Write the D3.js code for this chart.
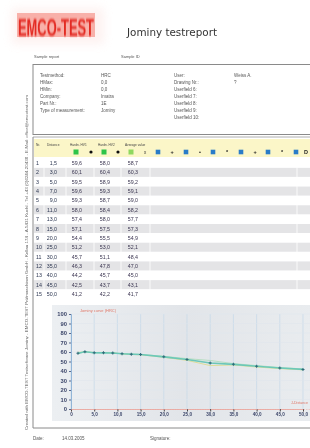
<!DOCTYPE html>
<html><head><meta charset="utf-8">
<script src="https://cdn.jsdelivr.net/npm/d3@7"></script>
<style>html,body{margin:0;padding:0;background:#fff;}svg{display:block;font-family:"Liberation Sans",Arial,sans-serif;}</style>
</head><body><div id="chart"></div>
<script>
// ---------- data ----------
const rowNr = [1,2,3,4,5,6,7,8,9,10,11,12,13,14,15];
const distance = [1.5,3.0,5.0,7.0,9.0,11.0,13.0,15.0,20.0,25.0,30.0,35.0,40.0,45.0,50.0];
const hardness1 = [59.6,60.1,59.5,59.6,59.3,58.0,57.4,57.1,54.4,51.2,45.7,46.3,44.2,42.5,41.2];
const hardness2 = [58.0,60.4,58.9,59.3,58.7,58.4,58.0,57.5,55.5,53.0,51.1,47.8,45.7,43.7,42.2];
const average   = [58.7,60.3,59.2,59.1,59.0,58.2,57.7,57.3,54.9,52.1,48.4,47.0,45.0,43.1,41.7];
const xTicks = [0,5,10,15,20,25,30,35,40,45,50];
const yTicks = [0,10,20,30,40,50,60,70,80,90,100];
const headerLeftLabels = ["Testmethod:","HMax:","HMin:","Company:","Part Nr.:","Type of measurement:"];
const headerLeftValues = ["HRC","0,0","0,0","Imatra","1E","Jominy"];
const headerRightLabels = ["User:","Drawing Nr.:","Userfield 6:","Userfield 7:","Userfield 8:","Userfield 9:","Userfield 10:"];
const headerRightValues = ["Weiss A.","?","","","","",""];
const columnHeaders = ["Nr.","Distance","Hardn. HV1","Hardn. HV2","Average value"];

const fmt = v => d3.format(".1f")(v).replace(".", ",");

const W = 310, H = 448;
const svg = d3.select("#chart").append("svg").attr("width", W).attr("height", H);
const defs = svg.append("defs");
defs.append("filter").attr("id","blurLogo").attr("x","-20%").attr("y","-40%").attr("width","140%").attr("height","180%")
  .append("feGaussianBlur").attr("stdDeviation",0.7);
defs.append("filter").attr("id","blurHaze").attr("x","-50%").attr("y","-50%").attr("width","200%").attr("height","200%")
  .append("feGaussianBlur").attr("stdDeviation",5);
defs.append("filter").attr("id","soft").append("feGaussianBlur").attr("stdDeviation",0.25);

const page = svg.append("g").attr("filter","url(#soft)");

// ---------- logo & title ----------
page.append("rect").attr("x",12).attr("y",8).attr("width",92).attr("height",36).attr("fill","#fbd9d6").attr("opacity",0.35).attr("filter","url(#blurHaze)");
page.append("rect").attr("x",17).attr("y",13).attr("width",78).attr("height",24).attr("fill","#f37a6e").attr("opacity",0.55).attr("filter","url(#blurLogo)");
page.append("text").attr("transform","translate(18,35.5) scale(1,1.75)").attr("font-size",13.5).attr("font-weight","bold")
  .attr("fill","#e32a22").attr("textLength",76).attr("lengthAdjust","spacingAndGlyphs")
  .attr("filter","url(#blurLogo)").text("EMCO-TEST");
page.append("text").attr("x",127).attr("y",36).attr("font-size",11).attr("fill","#333")
  .attr("font-family","DejaVu Sans, sans-serif").attr("textLength",90).attr("lengthAdjust","spacingAndGlyphs").text("Jominy testreport");
page.append("text").attr("x",34).attr("y",58).attr("font-size",4).attr("fill","#555").text("Sample report");
page.append("text").attr("x",121).attr("y",58).attr("font-size",4).attr("fill","#555").text("Sample ID");

// ---------- header box ----------
page.append("rect").attr("x",33).attr("y",64.5).attr("width",300).attr("height",70).attr("fill","none").attr("stroke","#8a8a8a").attr("stroke-width",1);
page.append("line").attr("x1",33).attr("x2",320).attr("y1",137).attr("y2",137).attr("stroke","#9a9a9a").attr("stroke-width",0.8);
const hRow = i => 77 + i*7;
page.selectAll(".hl").data(headerLeftLabels).join("text").attr("x",40).attr("y",(d,i)=>hRow(i)).attr("font-size",4.5).attr("fill","#555").text(d=>d);
page.selectAll(".hv").data(headerLeftValues).join("text").attr("x",101).attr("y",(d,i)=>hRow(i)).attr("font-size",4.5).attr("fill","#555").text(d=>d);
page.selectAll(".hrl").data(headerRightLabels).join("text").attr("x",174).attr("y",(d,i)=>hRow(i)).attr("font-size",4.5).attr("fill","#555").text(d=>d);
page.selectAll(".hrv").data(headerRightValues).join("text").attr("x",234).attr("y",(d,i)=>hRow(i)).attr("font-size",4.5).attr("fill","#555").text(d=>d);

// ---------- outer section box (table + chart) ----------
page.append("line").attr("x1",33).attr("x2",33).attr("y1",137).attr("y2",428).attr("stroke","#8a8a8a").attr("stroke-width",1);
page.append("line").attr("x1",33).attr("x2",320).attr("y1",428).attr("y2",428).attr("stroke","#8a8a8a").attr("stroke-width",1);

// ---------- table ----------
const rowY = d3.scaleLinear().domain([1,15]).range([165,296]);
page.append("rect").attr("x",34).attr("y",139).attr("width",280).attr("height",18).attr("fill","#fbf6c8");
const colX = [36,47,70,98,125];
page.selectAll(".ch").data(columnHeaders).join("text").attr("x",(d,i)=>colX[i]).attr("y",146).attr("font-size",3.2).attr("fill","#444").text(d=>d);
const greenSq = [{x:76,c:"#2fc44a"},{x:104,c:"#2fc44a"},{x:131,c:"#8fd860"}];
page.selectAll(".gs").data(greenSq).join("rect").attr("x",d=>d.x-2.5).attr("y",149.5).attr("width",5).attr("height",5).attr("fill",d=>d.c);
page.selectAll(".bd").data([91,118]).join("circle").attr("cx",d=>d).attr("cy",152).attr("r",1.6).attr("fill","#111");
page.append("text").attr("x",145).attr("y",153.8).attr("font-size",4.5).attr("text-anchor","middle").attr("fill","#333").text("x");
const blueX = [158,186,213,241,268,296];
page.selectAll(".bs").data(blueX).join("rect").attr("x",d=>d-2.3).attr("y",149.7).attr("width",4.6).attr("height",4.6).attr("fill","#2b7cc8");
const blackSym = [{x:172,s:"+"},{x:200,s:"•"},{x:227,s:"*"},{x:255,s:"+"},{x:282,s:"*"},{x:306,s:"D"}];
page.selectAll(".bk").data(blackSym).join("text").attr("x",d=>d.x).attr("y",154).attr("font-size",5.5).attr("font-weight","bold")
  .attr("text-anchor","middle").attr("fill","#222").text(d=>d.s);

page.selectAll(".stripe").data(rowNr.filter(n=>n%2===0)).join("rect")
  .attr("x",34).attr("y",d=>rowY(d)-6.5).attr("width",280).attr("height",9).attr("fill","#e4e4e6");
page.selectAll(".csep").data([44,66,94,121,150,297]).join("line").attr("x1",d=>d).attr("x2",d=>d)
  .attr("y1",158).attr("y2",300).attr("stroke","#fff").attr("stroke-width",0.8);

const tRows = page.selectAll(".trow").data(rowNr).join("g").attr("transform",d=>`translate(0,${rowY(d)})`);
tRows.append("text").attr("x",36).attr("font-size",5.3).attr("fill","#2b3550").text(d=>d);
tRows.append("text").attr("x",57).attr("text-anchor","end").attr("font-size",5.3).attr("fill","#2b3550").text((d,i)=>fmt(distance[i]));
tRows.append("text").attr("x",82).attr("text-anchor","end").attr("font-size",5.3).attr("fill","#3a3550").text((d,i)=>fmt(hardness1[i]));
tRows.append("text").attr("x",110).attr("text-anchor","end").attr("font-size",5.3).attr("fill","#3a3550").text((d,i)=>fmt(hardness2[i]));
tRows.append("text").attr("x",138).attr("text-anchor","end").attr("font-size",5.3).attr("fill","#3a3550").text((d,i)=>fmt(average[i]));

// ---------- chart ----------
const x = d3.scaleLinear().domain([0,50]).range([71,303]);
const y = d3.scaleLinear().domain([0,100]).range([409,314]);
const bg = defs.append("linearGradient").attr("id","bgGrad").attr("x1","0").attr("x2","1").attr("y1","0").attr("y2","0");
bg.append("stop").attr("offset","0").attr("stop-color","#eceff2");
bg.append("stop").attr("offset","0.5").attr("stop-color","#e2e5e9");
bg.append("stop").attr("offset","1").attr("stop-color","#e9ecef");
page.append("rect").attr("x",52).attr("y",305).attr("width",262).attr("height",116).attr("fill","url(#bgGrad)");

page.selectAll(".vg").data(xTicks).join("line").attr("x1",d=>x(d)).attr("x2",d=>x(d)).attr("y1",y(100)).attr("y2",y(0))
  .attr("stroke","#c4d8ea").attr("stroke-width",0.7);
page.selectAll(".hg").data(yTicks.filter(t=>t>0)).join("line").attr("x1",x(0)).attr("x2",312).attr("y1",d=>y(d)).attr("y2",d=>y(d))
  .attr("stroke","#dfe5ec").attr("stroke-width",0.5);

const yAxis = page.append("g").attr("transform",`translate(${x(0)},0)`).call(d3.axisLeft(y).tickValues(yTicks).tickSize(2).tickPadding(2));
yAxis.select(".domain").attr("stroke","#7fa8d0").attr("stroke-width",0.8);
yAxis.selectAll(".tick line").attr("stroke","#5a6a90");
yAxis.selectAll("text").attr("font-size",5.8).attr("font-weight","bold").attr("fill","#3a4468").attr("font-family","Liberation Sans, Arial, sans-serif");

const xAxis = page.append("g").attr("transform",`translate(0,${y(0)})`).call(d3.axisBottom(x).tickValues(xTicks).tickSize(2.5).tickPadding(1.5).tickFormat(d=>d===0?"0":d3.format(".1f")(d).replace(".",",")));
xAxis.select(".domain").attr("stroke","#e89a90").attr("stroke-width",0.8);
xAxis.selectAll(".tick line").attr("stroke","#444");
xAxis.selectAll("text").attr("font-size",4.6).attr("font-weight","bold").attr("fill","#3a4468").attr("font-family","Liberation Sans, Arial, sans-serif");
page.append("line").attr("x1",x(0)).attr("x2",312).attr("y1",y(0)+0.5).attr("y2",y(0)+0.5).attr("stroke","#f0b0a8").attr("stroke-width",0.6).attr("stroke-dasharray","1.5,1");

page.append("text").attr("x",80).attr("y",312).attr("font-size",4).attr("fill","#e07868").text("Jominy curve (HRC)");
page.append("text").attr("x",308).attr("y",404).attr("text-anchor","end").attr("font-size",3.6).attr("fill","#e07868").text("J-Distance");

const lineOf = arr => d3.line().x((d,i)=>x(distance[i])).y(d=>y(d))(arr);
page.append("path").attr("d",lineOf(hardness1)).attr("fill","none").attr("stroke","#d9d86a").attr("stroke-width",0.8).attr("opacity",0.8);
page.append("path").attr("d",lineOf(hardness2)).attr("fill","none").attr("stroke","#9ad8a8").attr("stroke-width",0.8).attr("opacity",0.8);
page.append("path").attr("d",lineOf(average)).attr("fill","none").attr("stroke","#6cc8b8").attr("stroke-width",1.6);
const sym = d3.symbol().type(d3.symbolCross).size(5);
page.selectAll(".pt").data(average).join("path").attr("d",sym)
  .attr("transform",(d,i)=>`translate(${x(distance[i])},${y(d)})`).attr("fill","#2f6a78");

// ---------- side text & footer ----------
page.append("text").attr("transform","translate(28,430) rotate(-90)").attr("font-size",3.4).attr("fill","#666")
  .attr("textLength",335).attr("lengthAdjust","spacingAndGlyphs")
  .text("Created with EMCO-TEST Testsoftware Jominy - EMCO-TEST Prüfmaschinen GmbH - Kellau 174 - A-5431 Kuchl - Tel +43 (0)6244-20438 - E-Mail: office@emcotest.com");
page.append("text").attr("x",33).attr("y",440).attr("font-size",4.5).attr("fill","#555").text("Date:");
page.append("text").attr("x",62).attr("y",440).attr("font-size",4.5).attr("fill","#555").text("14.03.2005");
page.append("text").attr("x",150).attr("y",440).attr("font-size",4.5).attr("fill","#555").text("Signature:");
</script></body></html>
